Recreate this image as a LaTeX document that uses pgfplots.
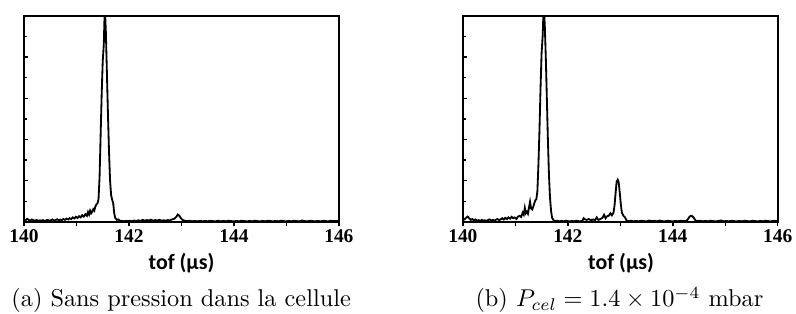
\documentclass[border=0pt]{standalone}
\usepackage{fontspec}
\usepackage{pgfplots}
\pgfplotsset{compat=1.18}
\newfontfamily\tickfont{Liberation Serif}
\newfontfamily\labfont{Carlito}

\pgfplotstableread{
x y
140.00 0.012
140.03 0.008
140.06 0.015
140.09 0.010
140.12 0.006
140.15 0.012
140.18 0.008
140.21 0.006
140.24 0.010
140.27 0.005
140.30 0.008
140.33 0.006
140.36 0.009
140.39 0.005
140.42 0.007
140.45 0.010
140.48 0.006
140.51 0.008
140.54 0.012
140.57 0.007
140.60 0.009
140.63 0.013
140.66 0.008
140.69 0.011
140.72 0.009
140.75 0.014
140.78 0.010
140.81 0.016
140.84 0.012
140.87 0.018
140.90 0.014
140.93 0.022
140.96 0.017
140.99 0.025
141.02 0.019
141.05 0.028
141.08 0.022
141.11 0.033
141.14 0.026
141.17 0.038
141.20 0.030
141.22 0.048
141.24 0.036
141.26 0.055
141.28 0.042
141.30 0.050
141.32 0.062
141.34 0.055
141.36 0.075
141.38 0.085
141.40 0.090
141.42 0.110
141.44 0.220
141.46 0.420
141.48 0.620
141.50 0.780
141.52 0.860
141.54 1.050
141.56 0.920
141.58 0.720
141.60 0.520
141.62 0.340
141.64 0.200
141.66 0.130
141.68 0.108
141.70 0.090
141.72 0.040
141.74 0.018
141.77 0.010
141.80 0.012
141.83 0.004
141.86 0.006
141.90 0.003
141.94 0.005
141.98 0.004
142.02 0.006
142.06 0.003
142.10 0.007
142.14 0.004
142.18 0.008
142.22 0.005
142.26 0.010
142.30 0.006
142.34 0.009
142.38 0.007
142.42 0.011
142.46 0.006
142.50 0.009
142.54 0.007
142.58 0.010
142.62 0.006
142.66 0.008
142.70 0.006
142.74 0.009
142.78 0.007
142.82 0.012
142.86 0.015
142.90 0.024
142.93 0.036
142.96 0.030
142.99 0.018
143.02 0.010
143.06 0.006
143.10 0.004
143.15 0.006
143.20 0.003
143.25 0.005
143.30 0.003
143.35 0.006
143.40 0.003
143.45 0.005
143.50 0.003
143.55 0.006
143.60 0.004
143.65 0.003
143.70 0.006
143.75 0.003
143.80 0.005
143.85 0.003
143.90 0.006
143.95 0.004
144.00 0.003
144.05 0.005
144.10 0.003
144.15 0.006
144.20 0.004
144.25 0.003
144.30 0.005
144.35 0.003
144.40 0.006
144.45 0.004
144.50 0.003
144.55 0.005
144.60 0.003
144.65 0.006
144.70 0.004
144.75 0.003
144.80 0.005
144.85 0.003
144.90 0.006
144.95 0.004
145.00 0.003
145.05 0.005
145.10 0.003
145.15 0.006
145.20 0.004
145.25 0.003
145.30 0.007
145.35 0.004
145.40 0.003
145.45 0.006
145.50 0.004
145.55 0.003
145.60 0.005
145.65 0.003
145.70 0.006
145.75 0.004
145.80 0.003
145.85 0.006
145.90 0.004
145.95 0.005
146.00 0.004
}\dataA

\pgfplotstableread{
x y
140.00 0.010
140.03 0.012
140.06 0.020
140.09 0.026
140.12 0.018
140.15 0.010
140.18 0.014
140.21 0.008
140.24 0.012
140.27 0.006
140.30 0.009
140.33 0.005
140.36 0.010
140.39 0.006
140.42 0.008
140.45 0.005
140.48 0.009
140.51 0.012
140.54 0.007
140.57 0.010
140.60 0.006
140.63 0.011
140.66 0.014
140.69 0.009
140.72 0.012
140.75 0.018
140.78 0.012
140.81 0.020
140.84 0.014
140.87 0.022
140.90 0.016
140.93 0.025
140.96 0.018
140.99 0.022
141.02 0.014
141.05 0.026
141.08 0.030
141.11 0.024
141.14 0.045
141.16 0.035
141.18 0.068
141.20 0.042
141.22 0.050
141.24 0.040
141.26 0.070
141.28 0.098
141.30 0.065
141.32 0.060
141.34 0.072
141.36 0.090
141.38 0.105
141.40 0.110
141.42 0.150
141.44 0.280
141.46 0.450
141.48 0.650
141.50 0.820
141.52 0.900
141.54 1.050
141.56 0.960
141.58 0.800
141.60 0.600
141.62 0.400
141.64 0.230
141.66 0.120
141.68 0.055
141.70 0.020
141.73 0.008
141.76 0.004
141.80 0.006
141.84 0.003
141.88 0.005
141.92 0.003
141.96 0.006
142.00 0.004
142.04 0.003
142.08 0.005
142.12 0.003
142.16 0.006
142.20 0.004
142.24 0.003
142.28 0.006
142.30 0.018
142.33 0.012
142.36 0.010
142.40 0.014
142.44 0.008
142.48 0.012
142.52 0.009
142.55 0.022
142.58 0.010
142.62 0.014
142.66 0.020
142.69 0.035
142.72 0.018
142.75 0.028
142.78 0.030
142.81 0.042
142.84 0.032
142.87 0.045
142.89 0.080
142.91 0.140
142.93 0.195
142.95 0.205
142.97 0.190
142.99 0.140
143.01 0.085
143.03 0.045
143.06 0.030
143.09 0.022
143.12 0.006
143.16 0.004
143.20 0.006
143.25 0.003
143.30 0.005
143.35 0.003
143.40 0.006
143.45 0.004
143.50 0.003
143.55 0.007
143.60 0.004
143.65 0.006
143.70 0.003
143.75 0.007
143.80 0.004
143.85 0.003
143.90 0.006
143.95 0.004
144.00 0.003
144.05 0.005
144.10 0.003
144.15 0.006
144.20 0.004
144.25 0.005
144.28 0.010
144.31 0.022
144.34 0.030
144.37 0.028
144.40 0.020
144.43 0.008
144.47 0.004
144.52 0.006
144.57 0.003
144.62 0.005
144.67 0.003
144.72 0.006
144.77 0.004
144.82 0.003
144.87 0.005
144.92 0.007
144.97 0.003
145.02 0.005
145.07 0.003
145.12 0.006
145.17 0.004
145.22 0.003
145.27 0.005
145.32 0.003
145.37 0.006
145.42 0.004
145.47 0.003
145.52 0.006
145.57 0.004
145.62 0.003
145.67 0.005
145.72 0.003
145.77 0.006
145.82 0.004
145.87 0.003
145.92 0.006
145.96 0.004
146.00 0.005
}\dataB

\pgfplotsset{panel/.style={
  scale only axis, width=129.6pt, height=84.8pt,
  xmin=140, xmax=146, ymin=0, ymax=1,
  xtick={140,141,142,143,144,145,146},
  xticklabels={140,,142,,144,,146},
  ytick={0.2,0.4,0.6,0.8},
  minor ytick={0.1,0.3,0.5,0.7,0.9},
  yticklabels={},
  xtick pos=bottom, ytick pos=left,
  xtick align=outside, ytick align=inside,
  major tick length=1.8pt, minor tick length=1.1pt,
  every tick/.style={black, line width=0.6pt},
  axis line style={line width=0.75pt},
  xticklabel style={font=\tickfont\bfseries\fontsize{8}{9}\selectfont, inner sep=1pt},
  anchor=south west,
}}

\begin{document}
\begin{tikzpicture}
\path[use as bounding box] (0,0) rectangle (327.6pt,129.2pt);
\begin{axis}[panel, at={(9.88pt,37.86pt)}]
\addplot[black, line width=0.75pt, mark=none] table[x=x,y=y] {\dataA};
\end{axis}
\begin{axis}[panel, at={(190.5pt,37.86pt)}]
\addplot[black, line width=0.75pt, mark=none] table[x=x,y=y] {\dataB};
\end{axis}
\node[font=\labfont\bfseries\fontsize{9}{10}\selectfont] at (74.7pt,21pt) {tof (µs)};
\node[font=\labfont\bfseries\fontsize{9}{10}\selectfont] at (255.6pt,21pt) {tof (µs)};
\node[anchor=base west, inner sep=0pt] at (4.5pt,2.9pt) {(a) Sans pression dans la cellule};
\node[anchor=base west, inner sep=0pt] at (195.5pt,2.9pt) {(b) $P_{cel} = 1.4 \times 10^{-4}$ mbar};
\end{tikzpicture}
\end{document}
